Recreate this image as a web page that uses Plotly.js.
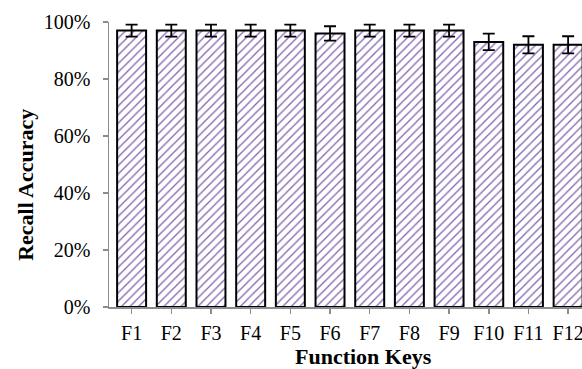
<!DOCTYPE html>
<html>
<head>
<meta charset="utf-8">
<script src="https://cdn.plot.ly/plotly-3.0.1.min.js"></script>
<style>html,body{margin:0;padding:0;background:#fff;}</style>
</head>
<body>
<div id="chart" style="width:582px;height:369px;"></div>
<script>
var categories = ["F1","F2","F3","F4","F5","F6","F7","F8","F9","F10","F11","F12"];
var accuracy = [0.97, 0.97, 0.97, 0.97, 0.97, 0.96, 0.97, 0.97, 0.97, 0.93, 0.92, 0.92];
var errors = [0.021, 0.021, 0.021, 0.021, 0.021, 0.025, 0.021, 0.021, 0.021, 0.029, 0.03, 0.03];
var yTicks = [0, 0.2, 0.4, 0.6, 0.8, 1.0];
var yTickLabels = ["0%","20%","40%","60%","80%","100%"];
var xTitle = "Function Keys";
var yTitle = "Recall Accuracy";

var serif = "Liberation Serif, Times New Roman, serif";

var trace = {
  type: "bar",
  x: categories,
  y: accuracy,
  width: 0.73,
  marker: {
    color: "#ffffff",
    line: {color: "#000000", width: 2},
    pattern: {shape: "/", fgcolor: "#8466b0", bgcolor: "#ffffff", size: 6, solidity: 0.22}
  },
  error_y: {type: "data", array: errors, visible: true, color: "#000000", thickness: 1.8, width: 6}
};

var layout = {
  width: 582,
  height: 369,
  margin: {l: 109, r: 0, t: 22, b: 62},
  paper_bgcolor: "#ffffff",
  plot_bgcolor: "#ffffff",
  showlegend: false,
  xaxis: {
    type: "category",
    range: [-0.57, 11.35],
    showline: true, linecolor: "#8c8c8c", linewidth: 1.5,
    ticks: "outside", tickcolor: "#8c8c8c", ticklen: 5, tickwidth: 1.5,
    ticklabelstandoff: 2,
    tickfont: {family: serif, size: 20, color: "#000"},
    showgrid: false, zeroline: false, fixedrange: true
  },
  yaxis: {
    range: [0, 1.0],
    tickvals: yTicks, ticktext: yTickLabels,
    showline: true, linecolor: "#8c8c8c", linewidth: 1.5,
    ticks: "outside", tickcolor: "#8c8c8c", ticklen: 5, tickwidth: 1.5,
    ticklabelstandoff: 8,
    tickfont: {family: serif, size: 20, color: "#000"},
    showgrid: false, zeroline: false, fixedrange: true
  },
  annotations: [
    {text: "<b>" + xTitle + "</b>", xref: "paper", yref: "paper", x: 0.539, y: -0.172,
     xanchor: "center", yanchor: "middle", showarrow: false,
     font: {family: serif, size: 22, color: "#000"}},
    {text: "<b>" + yTitle + "</b>", xref: "paper", yref: "paper", x: -0.178, y: 0.428,
     xanchor: "center", yanchor: "middle", showarrow: false, textangle: -90,
     font: {family: serif, size: 22, color: "#000"}}
  ]
};

Plotly.newPlot("chart", [trace], layout, {displayModeBar: false, staticPlot: true});
</script>
</body>
</html>
